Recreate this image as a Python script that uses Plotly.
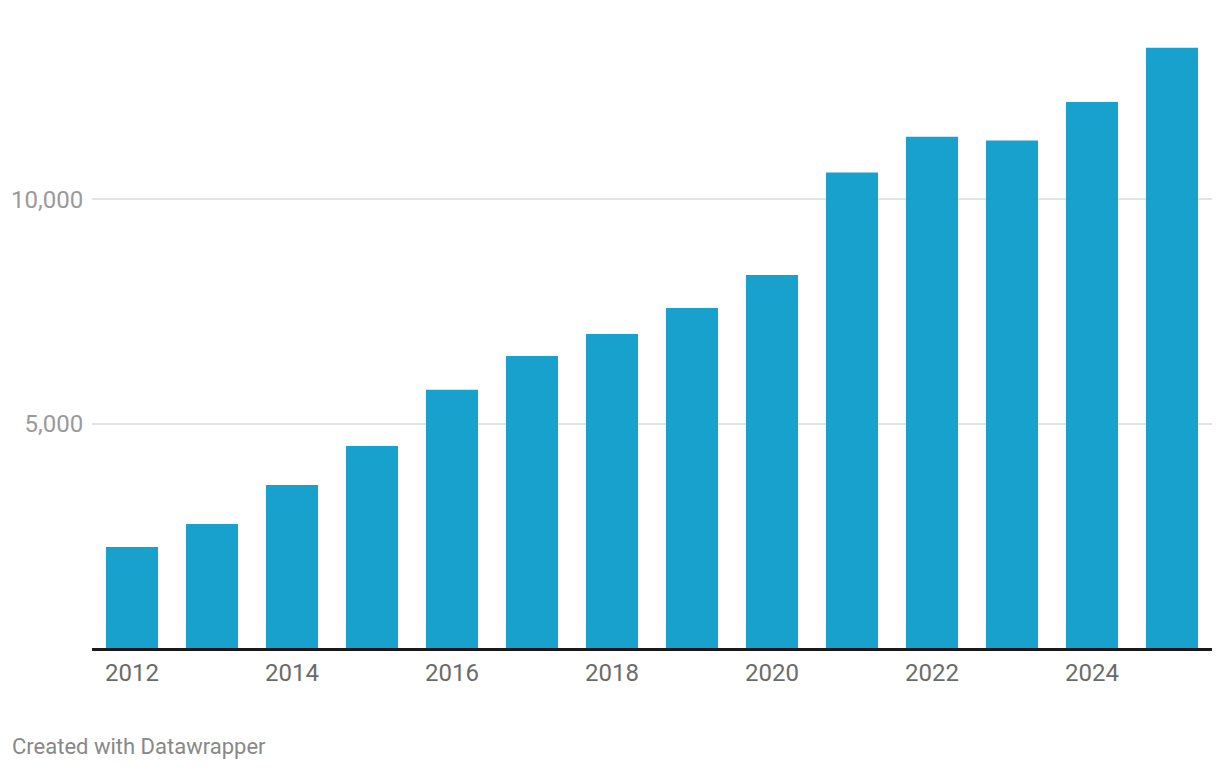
import plotly.graph_objects as go

years = list(range(2012, 2026))
values = [2250, 2763, 3633, 4503, 5758, 6510, 7000, 7580, 8316, 10598, 11400, 11311, 12174, 13379]
y_tick_vals = [5000, 10000]
y_tick_text = ["5,000", "10,000"]
x_tick_vals = [2012, 2014, 2016, 2018, 2020, 2022, 2024]
x_tick_text = [str(v) for v in x_tick_vals]

# page body has an 8px margin in the browser
OFF = 8
W, H = 1212, 762
ml, mr, mt, mb = 92 - OFF, 8, 20 - OFF, 122
pw, ph = W - ml - mr, H - mt - mb

fig = go.Figure(go.Bar(
    x=years, y=values,
    marker=dict(color="#18a1cd", line=dict(width=0)),
    hoverinfo="x+y",
))

fig.update_layout(
    width=W, height=H,
    margin=dict(l=ml, r=mr, t=mt, b=mb, autoexpand=False),
    paper_bgcolor="white", plot_bgcolor="white",
    bargap=0.35,
    showlegend=False,
    font=dict(family="Roboto", size=24, color="#888888"),
    xaxis=dict(
        range=[2011.5, 2025.5],
        tickvals=x_tick_vals, ticktext=x_tick_text,
        tickfont=dict(family="Roboto", size=24, color="#6b6b6b"),
        showgrid=False, zeroline=False,
        showline=True, linecolor="#1a1a1a", linewidth=2.5,
        ticks="outside", ticklen=1, tickcolor="rgba(0,0,0,0)",
        automargin=False,
    ),
    yaxis=dict(
        range=[0, 14000],
        tickvals=y_tick_vals, ticktext=y_tick_text,
        tickfont=dict(family="Roboto", size=24, color="#9a9a9a"),
        showgrid=True, gridcolor="#e3e3e3", gridwidth=1.5,
        zeroline=False, showline=False,
        ticks="outside", ticklen=3, tickcolor="rgba(0,0,0,0)",
        automargin=False,
    ),
    annotations=[dict(
        text="Created with Datawrapper",
        xref="paper", yref="paper",
        x=(10 - OFF - ml) / pw, y=(H - mb - (746 - OFF)) / ph,
        xanchor="left", yanchor="middle",
        showarrow=False,
        font=dict(family="Roboto", size=22, color="#888888"),
    )],
)

fig.write_html("out.html")
